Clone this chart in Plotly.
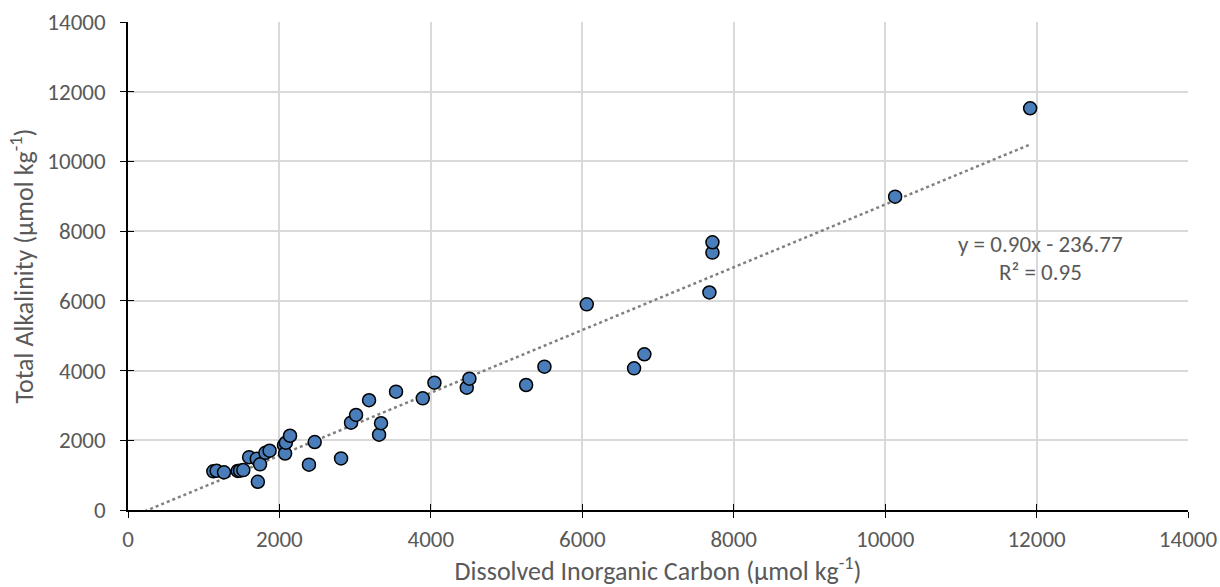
import plotly.graph_objects as go

# Data
dic = [1127, 1170, 1268, 1449, 1480, 1523, 1600, 1700, 1744, 1715, 1815, 1870,
       2060, 2075, 2085, 2140, 2390, 2466, 2814, 2946, 3012, 3184, 3316, 3342,
       3540, 3893, 4047, 4474, 4509, 5258, 5500, 6059, 6684, 6820, 7679, 7719,
       7719, 10132, 11915]
ta = [1110, 1125, 1080, 1120, 1128, 1145, 1515, 1470, 1310, 810, 1640, 1700,
      1860, 1620, 1930, 2130, 1300, 1950, 1480, 2505, 2726, 3150, 2160, 2490,
      3394, 3204, 3652, 3509, 3767, 3586, 4112, 5901, 4065, 4467, 6240, 7385,
      7680, 8989, 11525]

slope = 0.90
intercept = -236.77
r2 = 0.95

x_ticks = [0, 2000, 4000, 6000, 8000, 10000, 12000, 14000]
x_labels = ["0", "2000", "4000", "6000", "8000", "10000", "12000", "14000"]
y_ticks = [0, 2000, 4000, 6000, 8000, 10000, 12000, 14000]
y_labels = ["0", "2000", "4000", "6000", "8000", "10000", "12000", "14000"]

FONT = "Calibri, Carlito, Lato, sans-serif"
GREY = "#595959"
TICK_SIZE = 23
TITLE_SIZE = 26

trend_x = [0, max(dic)]
trend_y = [slope * v + intercept for v in trend_x]

fig = go.Figure()
fig.add_trace(go.Scatter(
    x=trend_x, y=trend_y, mode="lines",
    line=dict(color="#808080", width=2.5, dash="dot"),
    hoverinfo="skip", showlegend=False, cliponaxis=True))
fig.add_trace(go.Scatter(
    x=dic, y=ta, mode="markers",
    marker=dict(size=13, color="#4a7ebb", line=dict(color="#000000", width=1.5)),
    showlegend=False))

fig.add_annotation(
    x=12050, xref="x", y=7630, yref="y",
    text=f"y = {slope:.2f}x - {abs(intercept):.2f}", showarrow=False,
    font=dict(family=FONT, size=TICK_SIZE, color=GREY), xanchor="center")
fig.add_annotation(
    x=12050, xref="x", y=6840, yref="y",
    text=f"R² = {r2:.2f}", showarrow=False,
    font=dict(family=FONT, size=TICK_SIZE, color=GREY), xanchor="center")

axis_common = dict(range=[0, 14000], showline=True, automargin=False,
                   linecolor="#000000", linewidth=1.5, zeroline=False,
                   ticks="outside", ticklen=6, tickcolor="#000000", tickwidth=1.2,
                   tickfont=dict(family=FONT, size=TICK_SIZE, color=GREY),
                   gridcolor="#d9d9d9", gridwidth=1.5)

fig.update_layout(
    width=1220, height=587,
    margin=dict(l=128, r=32, t=22, b=77),
    paper_bgcolor="white", plot_bgcolor="white",
    font=dict(family=FONT, color=GREY),
    xaxis=dict(**axis_common, tickvals=x_ticks, ticktext=x_labels,
               ticklabelstandoff=2,
               title=dict(text="Dissolved Inorganic Carbon (µmol kg<sup>-1</sup>)",
                          font=dict(family=FONT, size=TITLE_SIZE, color=GREY), standoff=9)),
    yaxis=dict(**axis_common, tickvals=y_ticks, ticktext=y_labels,
               ticklabelstandoff=10,
               title=dict(text="Total Alkalinity (µmol kg<sup>-1</sup>)",
                          font=dict(family=FONT, size=TITLE_SIZE, color=GREY), standoff=6)),
    xaxis2=dict(range=[0, 14000], tickvals=x_ticks, overlaying="x", side="bottom",
                showline=False, showgrid=False, zeroline=False, showticklabels=False,
                ticks="inside", ticklen=6, tickcolor="#000000", tickwidth=1.2,
                anchor="y"),
    yaxis2=dict(range=[0, 14000], tickvals=y_ticks, overlaying="y", side="left",
                showline=False, showgrid=False, zeroline=False, showticklabels=False,
                ticks="inside", ticklen=6, tickcolor="#000000", tickwidth=1.2,
                anchor="x"),
)
# dummy trace to activate the overlay axes for cross ticks
fig.add_trace(go.Scatter(x=[None], y=[None], xaxis="x2", yaxis="y2",
                         showlegend=False, hoverinfo="skip"))

fig.write_html("out.html", config={"displayModeBar": False},
               post_script="document.body.style.margin='0';document.body.style.overflow='hidden';")
